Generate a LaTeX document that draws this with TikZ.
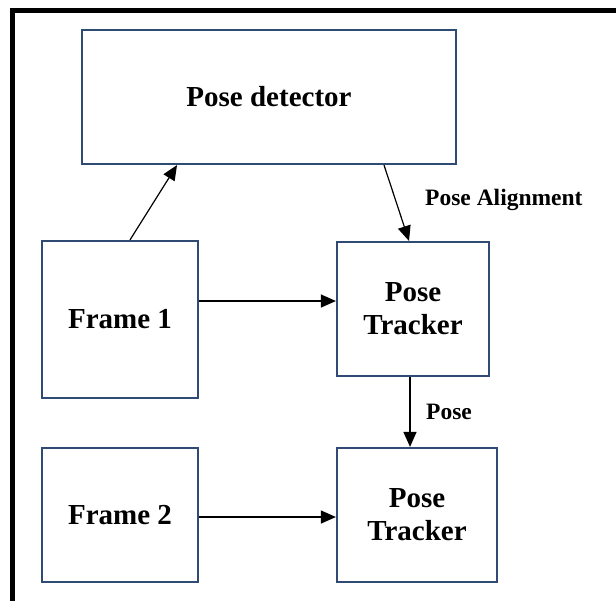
\documentclass[tikz,border=0pt]{standalone}
\usepackage{fontspec}
\setmainfont{Liberation Serif}
\usetikzlibrary{arrows.meta}
\definecolor{boxedge}{RGB}{47,75,115}
\tikzset{
  block/.style={draw=boxedge, line width=2.2pt, fill=white, inner sep=0pt,
    align=center, font=\fontsize{29}{33}\selectfont\bfseries},
  link/.style={draw=black, line width=1.2pt, -{Triangle[length=15pt,width=13pt]}},
  tag/.style={inner sep=0pt, anchor=base west, font=\fontsize{23.5}{27}\selectfont\bfseries},
  frameline/.style={line width=5pt}
}
\begin{document}
\begin{tikzpicture}[x=1pt,y=-1pt]
\useasboundingbox (0,0) rectangle (616,600);
\clip (0,0) rectangle (616,600);
% outer frame (left and top edges)
\draw[frameline] (12.5,610) -- (12.5,10) -- (630,10);

% blocks
\node[block, minimum width=374pt, minimum height=134pt] (det) at (269,97) {Pose detector};
\node[block, minimum width=156pt, minimum height=157pt] (f1) at (120,319.5) {Frame 1};
\node[block, minimum width=152pt, minimum height=134pt] (t1) at (413,309) {Pose\\Tracker};
\node[block, minimum width=156pt, minimum height=134pt] (f2) at (120,515) {Frame 2};
\node[block, minimum width=160pt, minimum height=134pt] (t2) at (417,515) {Pose\\Tracker};

% connectors
\draw[link] ([xshift=10pt]f1.north) -- ([xshift=-92pt]det.south);
\draw[link] ([xshift=115pt]det.south) -- ([xshift=-4pt]t1.north);
\draw[link] ([yshift=18.5pt]f1.east) -- ([yshift=8pt]t1.west);
\draw[link] ([xshift=-3pt]t1.south) -- ([xshift=-7pt]t2.north);
\draw[link] ([yshift=-2pt]f2.east) -- ([yshift=-2pt]t2.west);

% labels
\node[tag] (lalign) at (425,205) {Pose Alignment};
\node[tag] (lpose) at (426,419) {Pose};
\end{tikzpicture}
\end{document}
